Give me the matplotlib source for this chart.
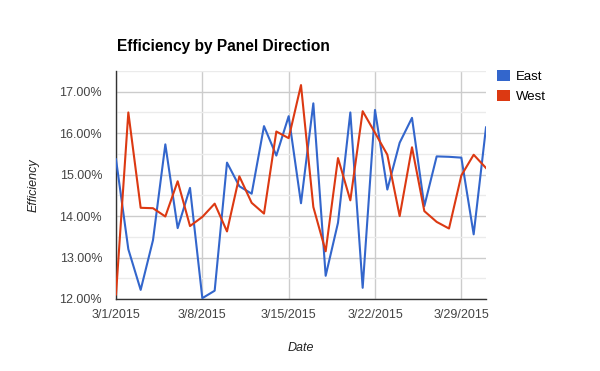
import matplotlib
matplotlib.use('Agg')
import matplotlib.pyplot as plt
from matplotlib.patches import Patch
import numpy as np
import pandas as pd

plt.rcParams['font.family'] = ['Liberation Sans', 'DejaVu Sans']

dates = pd.date_range('2015-03-01', '2015-03-31', freq='D')
east = [15.37, 13.20, 12.22, 13.42, 15.73, 13.71, 14.68, 12.02, 12.20, 15.29,
        14.72, 14.54, 16.17, 15.46, 16.41, 14.31, 16.72, 12.56, 13.84, 16.50,
        12.27, 16.56, 14.64, 15.77, 16.37, 14.24, 15.44, 15.43, 15.41, 13.56,
        16.14]
west = [12.11, 16.50, 14.20, 14.19, 13.99, 14.84, 13.76, 13.98, 14.30, 13.63,
        14.96, 14.32, 14.06, 16.04, 15.88, 17.16, 14.22, 13.15, 15.40, 14.38,
        16.53, 16.01, 15.48, 14.00, 15.66, 14.12, 13.86, 13.70, 14.98, 15.48,
        15.16]
tick_dates = pd.to_datetime(['2015-03-01', '2015-03-08', '2015-03-15', '2015-03-22', '2015-03-29'])
tick_labels = ['3/1/2015', '3/8/2015', '3/15/2015', '3/22/2015', '3/29/2015']
y_ticks = [12, 13, 14, 15, 16, 17]
colors = {'East': '#3366cc', 'West': '#dc3912'}

fig = plt.figure(figsize=(6, 3.71), dpi=100)
ax = fig.add_axes([116/600, 1 - 299/371, 370/600, 228/371])

ax.plot(dates, east, color=colors['East'], lw=1.5, zorder=3)
ax.plot(dates, west, color=colors['West'], lw=1.5, zorder=3)

ax.set_xlim(dates[0], dates[-1])
ax.set_ylim(12, 17.5)
ax.set_yticks(y_ticks)
ax.set_yticklabels(['{:.2f}%'.format(v) for v in y_ticks])
ax.set_yticks(np.arange(12.5, 17.6, 1), minor=True)
ax.set_xticks(tick_dates)
ax.set_xticklabels(tick_labels)

ax.grid(which='major', color='#cccccc', lw=1)
ax.grid(which='minor', axis='y', color='#ebebeb', lw=1)
ax.set_axisbelow(True)
ax.tick_params(which='both', length=0, labelsize=9, colors='#444444')
ax.tick_params(axis='y', pad=10)
ax.tick_params(axis='x', pad=7)
for s in ['top', 'right']:
    ax.spines[s].set_visible(False)
for s in ['left', 'bottom']:
    ax.spines[s].set_color('#333333')
    ax.spines[s].set_linewidth(1)

ax.set_xlabel('Date', style='italic', fontsize=9, color='#222222', labelpad=15)
ax.set_ylabel('Efficiency', style='italic', fontsize=9, color='#222222', labelpad=14)
fig.text(117/600, 1 - 46/371, 'Efficiency by Panel Direction', fontsize=11.2,
         fontweight='bold', color='#000000', va='center', ha='left')

handles = [Patch(facecolor=c, edgecolor='none', label=k) for k, c in colors.items()]
fig.legend(handles=handles, loc='upper left', bbox_to_anchor=(497/600, 1 - 70/371),
           frameon=False, fontsize=9.5, handlelength=0.95, handleheight=0.95,
           handletextpad=0.5, labelspacing=0.5, borderaxespad=0, borderpad=0)

fig.savefig('out.png', dpi=100)
